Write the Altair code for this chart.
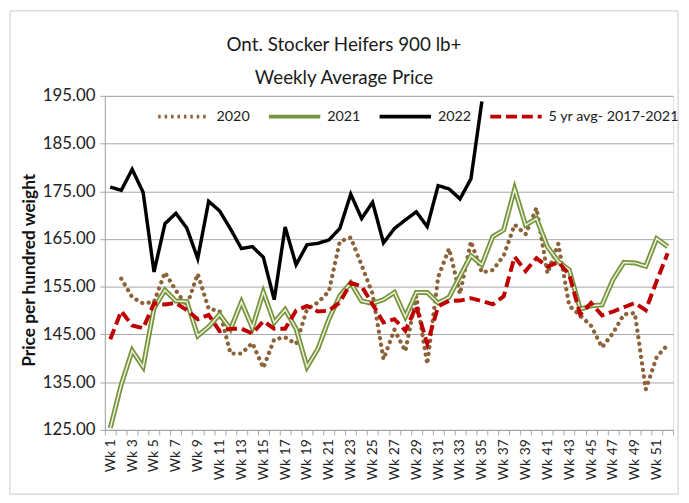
import altair as alt
import pandas as pd

weeks = list(range(1, 53))
series_names = ["2020", "2021", "2022", "5 yr avg- 2017-2021"]

y2020 = [None, 156.7, 152.8, 151.5, 151.8, 158.0, 154.2, 151.0, 157.7, 150.4,
         149.9, 141.0, 141.0, 143.2, 138.0, 144.0, 144.4, 143.0, 150.3, 151.7,
         154.0, 164.5, 165.3, 159.5, 153.5, 139.8, 146.0, 141.5, 153.0, 138.8,
         157.0, 163.0, 153.5, 164.5, 158.0, 158.5, 161.5, 168.0, 166.0, 171.5,
         157.8, 164.0, 151.0, 149.0, 146.8, 142.3, 145.3, 149.2, 149.5, 133.5,
         140.3, 142.8]

y2021 = [125.4, 134.5, 141.6, 138.2, 150.5, 154.3, 152.0, 151.9, 144.7, 146.6,
         149.2, 146.1, 151.8, 146.4, 153.9, 147.5, 150.2, 146.2, 138.2, 142.0,
         148.2, 153.1, 155.8, 152.0, 151.5, 152.3, 153.8, 148.7, 153.8, 153.8,
         151.6, 152.8, 157.2, 161.5, 159.6, 165.5, 166.9, 175.5, 167.9, 169.3,
         163.4, 160.3, 158.5, 150.3, 151.0, 151.2, 156.5, 160.1, 160.0, 159.3,
         165.1, 163.4]

y2022 = [175.9, 175.2, 179.6, 174.8, 158.1, 168.2, 170.4, 167.3, 160.9, 172.9,
         170.9, 167.1, 163.0, 163.4, 161.2, 152.3, 167.5, 159.6, 163.8, 164.1,
         164.8, 167.2, 174.4, 169.3, 172.7, 164.2, 167.2, 169.0, 170.7, 167.6,
         176.2, 175.5, 173.4, 177.6, 193.8]

avg5 = [144.0, 149.9, 146.9, 146.3, 151.5, 151.3, 151.6, 150.1, 148.2, 149.1,
        145.7, 146.2, 146.2, 145.2, 147.8, 146.2, 146.2, 150.0, 151.0, 149.8,
        150.0, 151.7, 155.8, 155.1, 151.3, 147.5, 148.2, 145.8, 150.9, 143.0,
        150.9, 152.0, 152.1, 152.6, 152.0, 151.3, 153.0, 161.3, 158.3, 161.0,
        159.2, 160.2, 157.5, 149.2, 151.6, 149.0, 149.8, 150.7, 151.6, 150.1,
        156.2, 162.0]

y_ticks = [125, 135, 145, 155, 165, 175, 185, 195]
x_tick_values = [k / 2 for k in range(1, 106)]

rows = []
for name, vals in zip(series_names, [y2020, y2021, y2022, avg5]):
    for w, v in zip(weeks, vals):
        if v is not None:
            rows.append({"week": w, "series": name, "price": v})
df = pd.DataFrame(rows)

FONT = "Lato"
GRID = "#A6A6A6"
colors = ["#8C6239", "#77933C", "#000000", "#C00000"]
dashes = [[2.5, 4], [1, 0], [1, 0], [11, 5]]

x_enc = alt.X(
    "week:Q",
    scale=alt.Scale(domain=[0.5, 52.5], nice=False, zero=False),
    axis=alt.Axis(
        values=x_tick_values,
        labelExpr="datum.value % 2 == 1 ? 'Wk ' + datum.value : ''",
        labelAngle=-90, labelAlign="right", labelBaseline="middle",
        labelFont=FONT, labelFontSize=14, labelColor="#222222",
        labelPadding=4, labelOverlap=False, labelFlush=False, labelBound=False,
        tickSize=5, tickColor=GRID,
        tickOpacity={"condition": {"test": "datum.value % 1 == 0", "value": 0}, "value": 1},
        domainColor=GRID, grid=False, title=None,
    ),
)
y_enc = alt.Y(
    "price:Q",
    scale=alt.Scale(domain=[125, 195], nice=False, zero=False),
    axis=alt.Axis(
        values=y_ticks, format=".2f",
        labelFont=FONT, labelFontSize=17, labelColor="#222222", labelPadding=5,
        labelFlush=False,
        tickSize=5, tickColor=GRID, domainColor=GRID,
        grid=True, gridColor=GRID, gridWidth=1,
        title="Price per hundred weight", titleFont=FONT, titleFontSize=17.5,
        titleFontWeight="bold", titleColor="#111111", titlePadding=4, titleY=176,
    ),
)
legend = alt.Legend(
    title=None, orient="none", direction="horizontal", legendX=52, legendY=-7,
    symbolType="stroke", symbolSize=2704, symbolStrokeWidth=4,
    labelFont=FONT, labelFontSize=14.5, labelColor="#222222", labelOffset=5,
    columnPadding=11, padding=0,
)
color_enc = alt.Color("series:N", scale=alt.Scale(domain=series_names, range=colors), legend=legend)
dash_enc = alt.StrokeDash("series:N", scale=alt.Scale(domain=series_names, range=dashes), legend=legend)

base = alt.Chart(df)

def series_layer(name, width):
    return base.transform_filter(alt.datum.series == name).mark_line(strokeWidth=width).encode(
        x=x_enc, y=y_enc, color=color_enc, strokeDash=dash_enc
    )

l2020 = base.transform_filter(alt.datum.series == "2020").mark_line(
    strokeWidth=4.3, strokeDash=[0.1, 6.6], strokeCap="round"
).encode(x=x_enc, y=y_enc, color=color_enc)
l2021 = series_layer("2021", 5)
l2021_inner = base.transform_filter(alt.datum.series == "2021").mark_line(
    strokeWidth=1.5, color="#EEF3E2"
).encode(x=x_enc, y=y_enc)
l2022 = series_layer("2022", 3.5)
lavg = series_layer("5 yr avg- 2017-2021", 4)

frame = alt.Chart(pd.DataFrame({"f": [0]})).mark_rect(
    fill=None, stroke="#C8C8C8", strokeWidth=1
).encode(x=alt.value(-96), x2=alt.value(580), y=alt.value(-86), y2=alt.value(403))

chart = alt.layer(frame, l2020, l2021, l2021_inner, l2022, lavg).properties(
    width=575, height=338,
    title=alt.TitleParams(
        text=["Ont. Stocker Heifers 900 lb+", "Weekly Average Price"],
        font=FONT, fontSize=19, fontWeight="normal", color="#1a1a1a",
        anchor="middle", dx=-45.5, offset=-78, lineHeight=33,
    ),
    autosize=alt.AutoSizeParams(type="none"),
    padding={"left": 98, "top": 86, "right": 8, "bottom": 66},
).configure_view(stroke=None).configure(background="white")

chart.save("out.html", embed_options={"renderer": "svg", "actions": False})
